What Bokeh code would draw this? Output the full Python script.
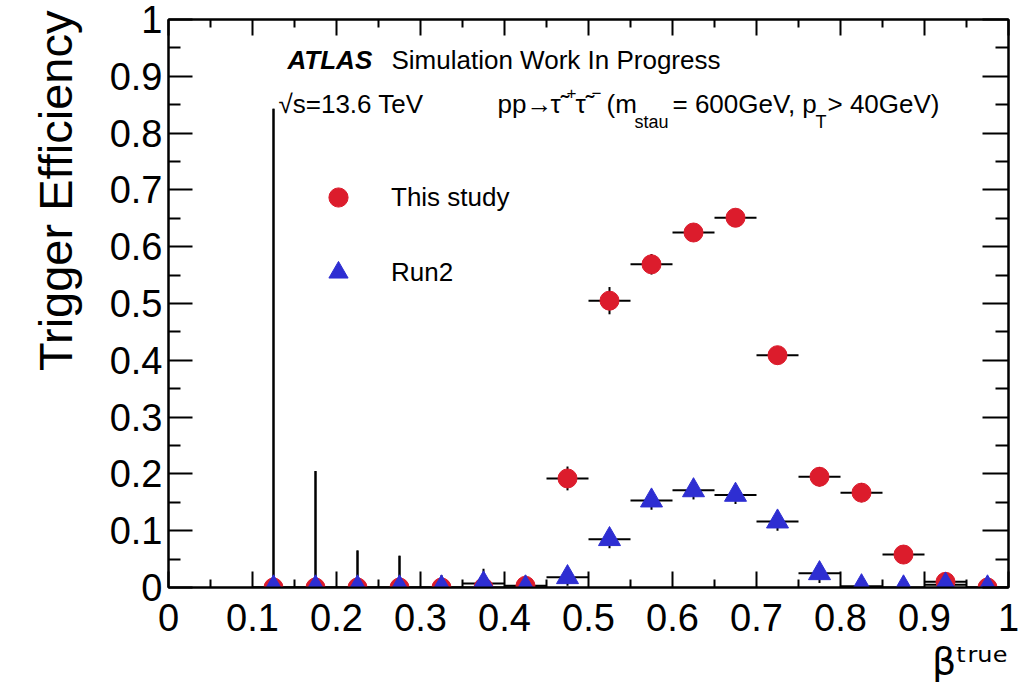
import numpy as np
from bokeh.plotting import figure
from bokeh.models import (Range1d, FixedTicker, Label, Legend, LegendItem,
                          LinearAxis, ColumnDataSource, Title)
from bokeh.embed import file_html
from bokeh.resources import INLINE

# ---------------- data ----------------
bin_centers = [0.125, 0.175, 0.225, 0.275, 0.325, 0.375, 0.425, 0.475, 0.525,
               0.575, 0.625, 0.675, 0.725, 0.775, 0.825, 0.875, 0.925, 0.975]
bin_half_width = 0.025

this_study = [0.0, 0.0, 0.0, 0.0, 0.0, 0.0, 0.003, 0.192, 0.505,
              0.569, 0.625, 0.651, 0.409, 0.195, 0.167, 0.058, 0.010, 0.0]
this_study_err_up = [0.843, 0.205, 0.065, 0.056, 0.021, 0.026, 0.018, 0.021, 0.024,
                     0.018, 0.016, 0.016, 0.016, 0.017, 0.017, 0.016, 0.016, 0.010]
this_study_err_lo = [0.0, 0.0, 0.0, 0.0, 0.0, 0.0, 0.003, 0.021, 0.024,
                     0.018, 0.016, 0.016, 0.016, 0.017, 0.017, 0.016, 0.010, 0.0]

run2 = [0.0, 0.0, 0.0, 0.0, 0.0, 0.007, 0.0, 0.018, 0.085,
        0.153, 0.171, 0.163, 0.116, 0.025, 0.002, 0.0, 0.005, 0.0]
run2_err_up = [0.843, 0.205, 0.065, 0.056, 0.021, 0.026, 0.018, 0.017, 0.016,
               0.016, 0.016, 0.016, 0.016, 0.017, 0.010, 0.010, 0.010, 0.010]
run2_err_lo = [0.0, 0.0, 0.0, 0.0, 0.0, 0.007, 0.0, 0.015, 0.016,
               0.016, 0.016, 0.016, 0.016, 0.017, 0.002, 0.0, 0.005, 0.0]

x_ticks = [0, 0.1, 0.2, 0.3, 0.4, 0.5, 0.6, 0.7, 0.8, 0.9, 1]
x_tick_labels = ["0", "0.1", "0.2", "0.3", "0.4", "0.5", "0.6", "0.7", "0.8", "0.9", "1"]
y_ticks = [0, 0.1, 0.2, 0.3, 0.4, 0.5, 0.6, 0.7, 0.8, 0.9, 1]
y_tick_labels = ["0", "0.1", "0.2", "0.3", "0.4", "0.5", "0.6", "0.7", "0.8", "0.9", "1"]

series_names = ["This study", "Run2"]
x_title = "β\u1d57\u02b3\u1d58\u1d49"   # beta with superscript "true"
y_title = "Trigger Efficiency"

# ---------------- layout ----------------
W, H = 1032, 698
FL, FR, FT, FB = 168, 1008, 19, 587
FONT = "Liberation Sans"
RED = "#dc1c2c"
BLUE = "#2e2ed2"


def dx(px):
    return (px - FL) / (FR - FL)


def dy(py):
    return (FB - py) / (FB - FT)


p = figure(width=W, height=H, output_backend="svg", toolbar_location=None,
           x_range=Range1d(0, 1), y_range=Range1d(0, 1),
           min_border_left=FL, min_border_right=W - FR,
           min_border_top=FT, min_border_bottom=H - FB)
p.xgrid.visible = False
p.ygrid.visible = False
p.background_fill_color = "white"
p.border_fill_color = "white"
p.outline_line_color = "black"
p.outline_line_width = 2


def minors(ticks):
    return [(a + b) / 2 for a, b in zip(ticks[:-1], ticks[1:])]


def style_axis(ax, ticks, labels, tin, tmin, show_labels=True, standoff=6):
    ax.ticker = FixedTicker(ticks=ticks, minor_ticks=minors(ticks))
    ax.axis_line_color = "black"
    ax.axis_line_width = 2
    ax.major_tick_in = tin
    ax.major_tick_out = 0
    ax.minor_tick_in = tmin
    ax.minor_tick_out = 0
    ax.major_tick_line_width = 2
    ax.minor_tick_line_width = 2
    ax.major_tick_line_color = "black"
    ax.minor_tick_line_color = "black"
    ax.major_label_text_font = FONT
    ax.major_label_text_color = "black"
    ax.major_label_standoff = standoff
    if show_labels:
        ax.major_label_text_font_size = "38px"
        ax.major_label_overrides = dict(zip(ticks, labels))
    else:
        ax.major_label_text_font_size = "1px"
        ax.major_label_overrides = {t: "" for t in ticks}


style_axis(p.xaxis[0], x_ticks, x_tick_labels, 16, 8, standoff=16)
style_axis(p.yaxis[0], y_ticks, y_tick_labels, 24, 12, standoff=6)

top_axis = LinearAxis()
style_axis(top_axis, x_ticks, x_tick_labels, 16, 8, show_labels=False, standoff=0)
p.add_layout(top_axis, "above")
right_axis = LinearAxis()
style_axis(right_axis, y_ticks, y_tick_labels, 26, 13, show_labels=False, standoff=0)
p.add_layout(right_axis, "right")

# axis titles (side-panel titles, aligned to the far end like ROOT)
p.add_layout(Title(text=y_title, align="right", text_font=FONT,
                   text_font_size="47px", text_font_style="normal",
                   text_color="black", standoff=50, offset=-9), "left")
p.add_layout(Title(text=x_title, align="right", text_font="DejaVu Sans",
                   text_font_size="38px", text_font_style="normal",
                   text_color="black", standoff=6, offset=0), "below")

# ---------------- error bars ----------------
xc = np.array(bin_centers)
for vals, up, lo in [(this_study, this_study_err_up, this_study_err_lo),
                     (run2, run2_err_up, run2_err_lo)]:
    v = np.array(vals)
    src = ColumnDataSource(dict(x=xc, y=v, ylo=v - np.array(lo), yhi=v + np.array(up),
                                xlo=xc - bin_half_width, xhi=xc + bin_half_width))
    p.segment(x0="x", y0="ylo", x1="x", y1="yhi", source=src,
              line_color="black", line_width=2)
    p.segment(x0="xlo", y0="y", x1="xhi", y1="y", source=src,
              line_color="black", line_width=2)

r_red = p.scatter(bin_centers, this_study, marker="circle", size=19,
                  fill_color=RED, line_color=RED)
r_blue = p.scatter(bin_centers, run2, marker="triangle", size=22,
                   fill_color=BLUE, line_color=BLUE)

# ---------------- legend ----------------
legend = Legend(items=[LegendItem(label=series_names[0], renderers=[r_red]),
                       LegendItem(label=series_names[1], renderers=[r_blue])],
                location=(314 - FL, FB - 296),
                glyph_width=48, glyph_height=48, label_standoff=29, spacing=27,
                padding=0, margin=0, border_line_alpha=0, background_fill_alpha=0,
                label_text_font=FONT, label_text_font_size="26px",
                label_text_color="black")
p.add_layout(legend)


# ---------------- texts ----------------
def add_text(txt, px, py, size, style="normal"):
    # py is the intended baseline; compensate bokeh's baseline placement
    p.add_layout(Label(x=dx(px), y=dy(py - 0.38 * size), text=txt, text_font=FONT,
                       text_font_size=f"{size}px", text_font_style=style,
                       text_align="left", text_baseline="alphabetic",
                       text_color="black"))


add_text("ATLAS", 287, 69, 26, style="bold italic")
add_text("Simulation Work In Progress", 391, 69, 26)
add_text("√s=13.6 TeV", 278, 113, 26)
add_text("pp→", 497, 113, 26)
add_text("τ\u0303", 550, 113, 26)
add_text("+", 566, 99, 17)
add_text("τ\u0303", 575, 113, 26)
add_text("−", 591, 99, 17)
add_text("(m", 606, 113, 26)
add_text("stau", 634, 128, 18)
add_text("= 600GeV, p", 672, 113, 26)
add_text("T", 815, 128, 18)
add_text("> 40GeV)", 827, 113, 26)

open("out.html", "w").write(file_html(p, INLINE))
